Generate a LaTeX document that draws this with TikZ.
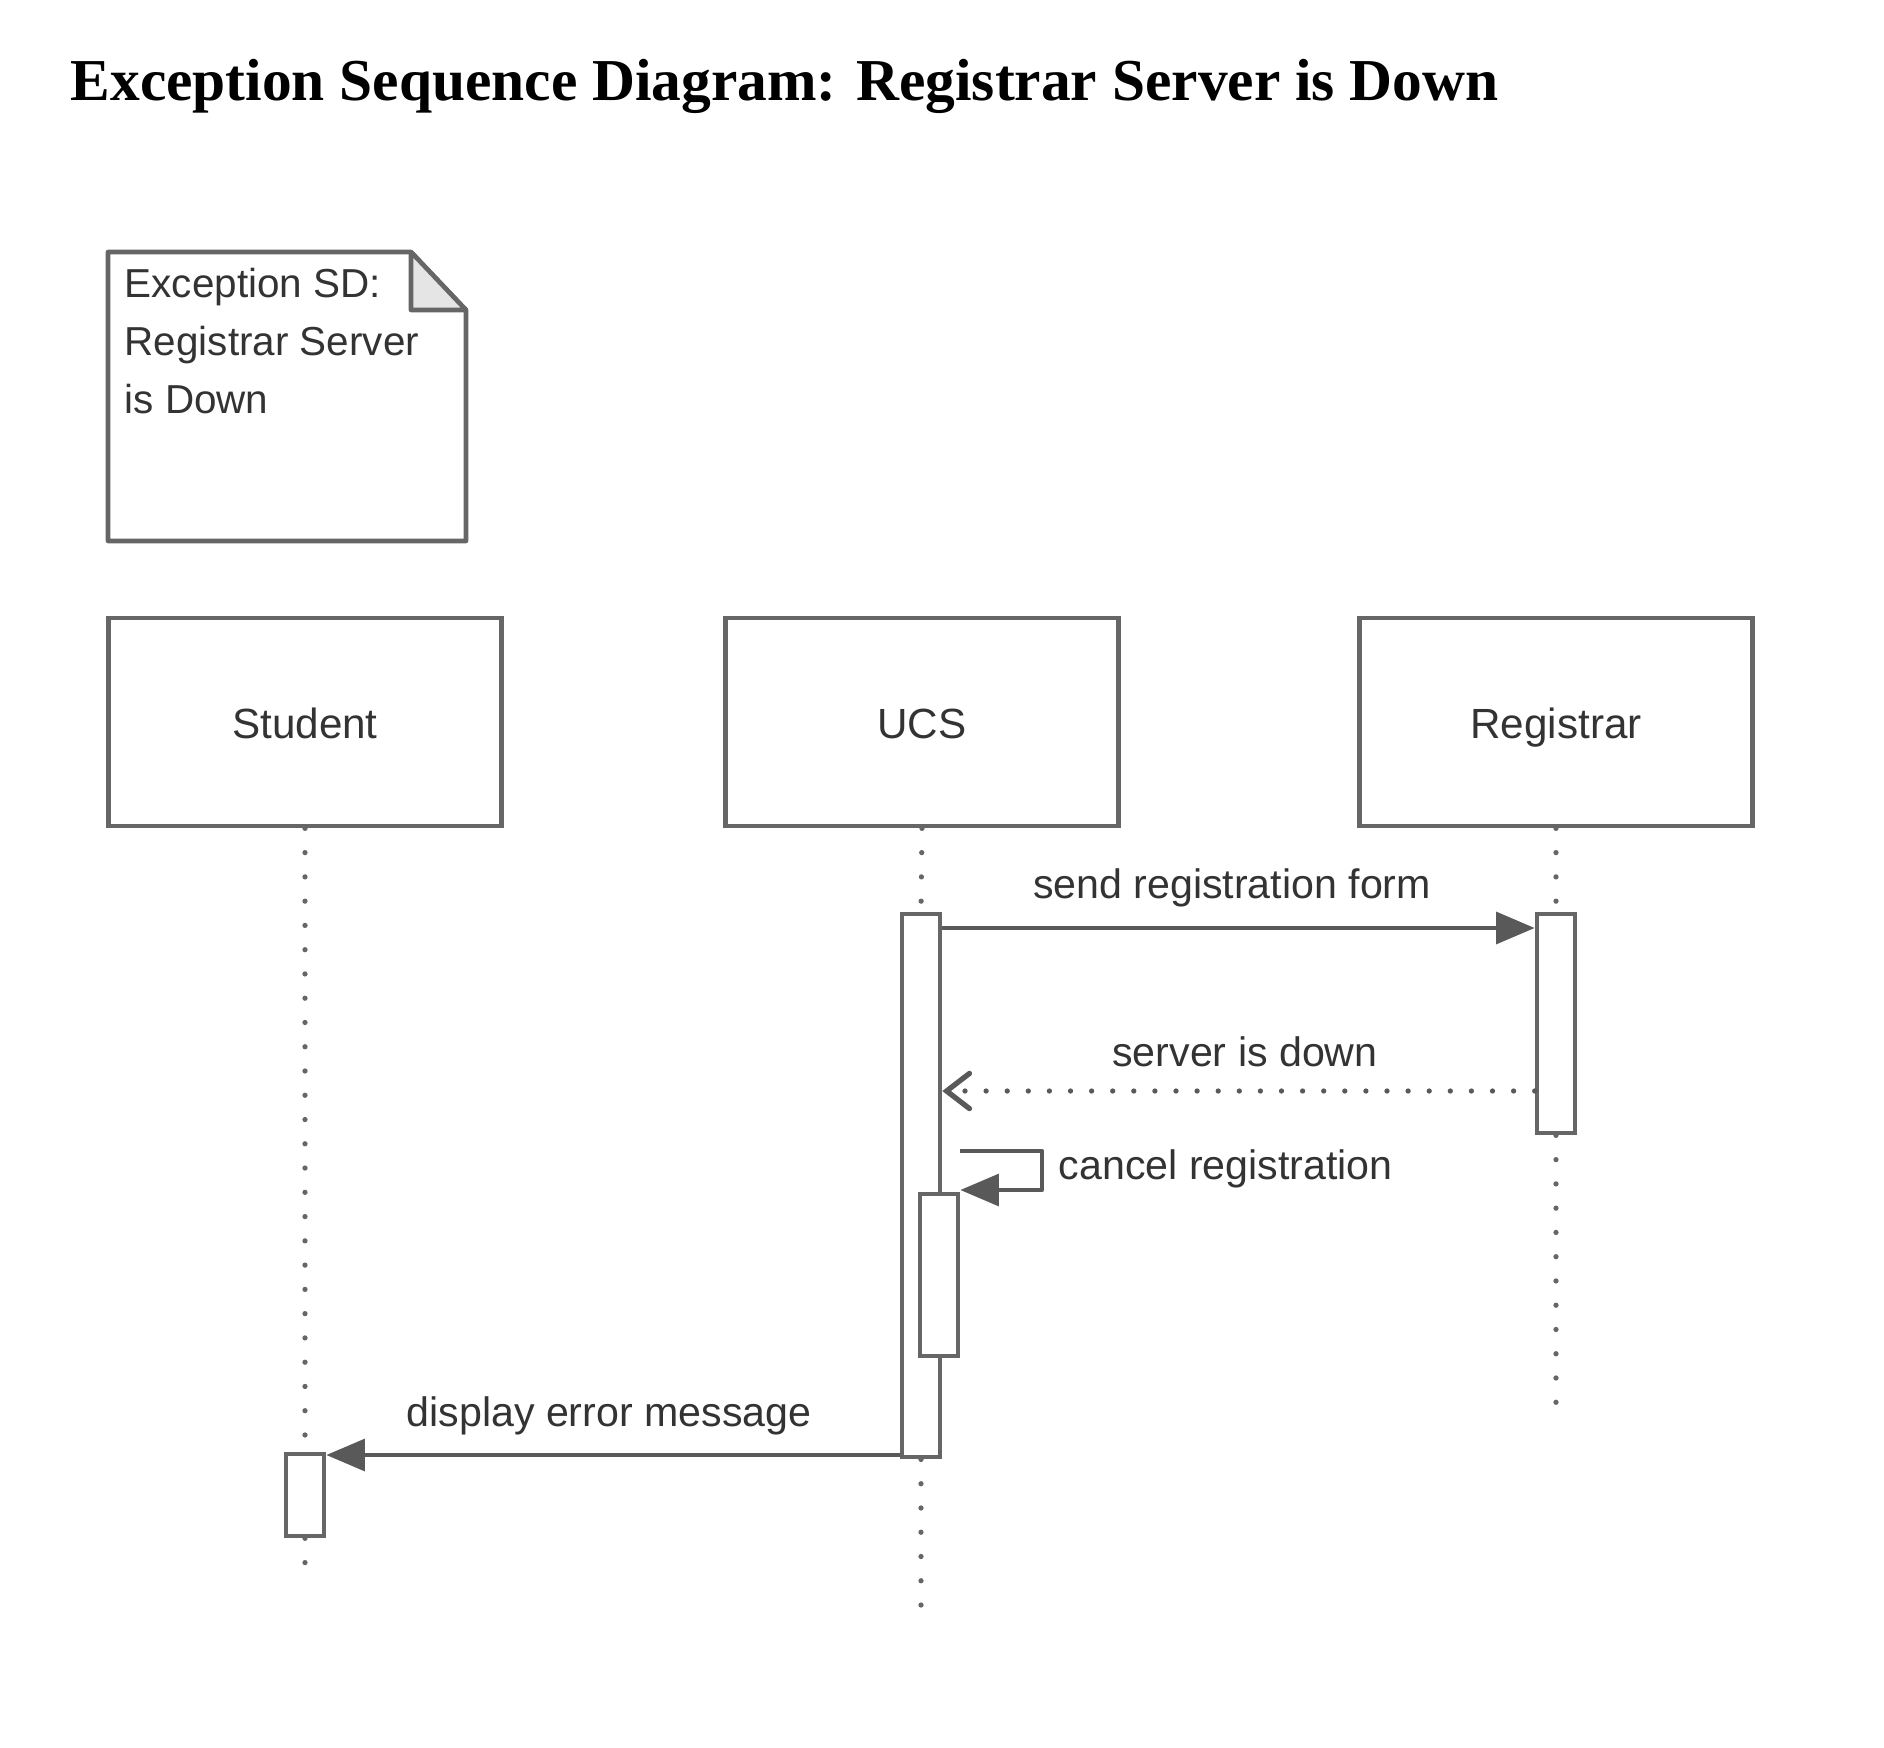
\documentclass[tikz,border=0pt]{standalone}
\usepackage{fontspec}
\setmainfont{Liberation Serif}
\setsansfont{Liberation Sans}
\usetikzlibrary{arrows.meta,positioning}

\tikzset{
  obj/.style={draw=black!60, line width=1.3pt, minimum width=3.93cm, minimum height=2.08cm,
    inner sep=0pt, text height=9.5pt, text depth=0pt, font=\sffamily\fontsize{12}{14}\selectfont, text=black!80},
  act/.style={draw=black!60, fill=white, line width=1.3pt, minimum width=0.38cm, inner sep=0pt},
  lifeline/.style={black!60, line width=1.5pt, line cap=round, dash pattern=on 0pt off 6.9pt},
  msg/.style={black!65, line width=1.3pt, -{Triangle[length=11pt,width=9pt]}},
  reply/.style={black!65, line width=1.5pt, line cap=round, dash pattern=on 0pt off 6pt,
    -{Straight Barb[length=6.5pt,width=10pt,line cap=round]}},
  lbl/.style={font=\sffamily\fontsize{11.7}{14}\selectfont, text=black!80, inner sep=0pt},
}

\begin{document}
\begin{tikzpicture}[x=0.01cm,y=-0.01cm]

\useasboundingbox (0,0) rectangle (1884,1748);

	% Title
	\node[anchor=base west, inner sep=0pt, font=\bfseries\fontsize{16.9}{20}\selectfont] (title) at (70,100)
		{Exception Sequence Diagram: Registrar Server is Down};

	% Draw the note with its folded corner
	\coordinate (noteNW) at (108,252);
	\coordinate (foldA) at (411,252);
	\coordinate (foldB) at (466,310);
	\coordinate (noteSE) at (466,541);
	\draw[black!60, line width=1.3pt, line join=round] (noteNW) -- (foldA) -- (foldB) -- (noteSE) -- (noteNW |- noteSE) -- cycle;
	\draw[black!60, line width=1.3pt, line join=round, fill=black!10] (foldA) -- (foldA |- foldB) -- (foldB) -- cycle;
	\node[lbl, font=\sffamily\fontsize{11.5}{16.5}\selectfont, anchor=north west, align=left] (note) at (124,267)
		{Exception SD:\\Registrar Server\\is Down};

	% Heads of the lifelines
	\node[obj] (student) at (305,722) {Student};
	\node[obj] (ucs) at (922,722) {UCS};
	\node[obj] (registrar) at (1556,722) {Registrar};

	% Activation bars
	\node[act, minimum height=0.82cm] (stuAct) at (305,1495) {};
	\node[act, minimum height=5.43cm] (ucsAct) at (921,1185.5) {};
	\node[act, minimum height=2.19cm] (regAct) at (1556,1023.5) {};

	\coordinate (stuEnd) at (305,1573);
	\coordinate (ucsEnd) at (921,1614);
	\coordinate (regEnd) at (1556,1410);

	% Draw the dotted lifelines
	\draw[lifeline] (student.south) -- (stuAct.north);
	\draw[lifeline] (stuAct.south) -- (stuEnd);
	\draw[lifeline] (ucs.south) -- (ucsAct.north);
	\draw[lifeline] (ucsAct.south) -- (ucsEnd);
	\draw[lifeline] (registrar.south) -- (regAct.north);
	\draw[lifeline] (regAct.south) -- (regEnd);

	% Heights of the messages
	\coordinate (m1) at (0,928);
	\coordinate (m2) at (0,1091);
	\coordinate (s1) at (0,1151);
	\coordinate (s2) at (0,1190);
	\coordinate (sR) at (1042,0);
	\coordinate (m4) at (0,1455);

	% send registration form
	\draw[msg] (ucsAct.east |- m1) -- (regAct.west |- m1);
	\node[lbl] (sendLbl) at (1232,888) {send registration form};

	% server is down
	\draw[reply] (regAct.west |- m2) -- (ucsAct.east |- m2);
	\node[lbl] (downLbl) at (1245,1052) {server is down};

	% cancel registration, a call to itself
	\node[act, minimum height=1.62cm] (ucsSub) at (939,1275) {};
	\draw[msg, line join=round] (ucsSub.east |- s1) -- (sR |- s1) -- (sR |- s2) -- (ucsSub.east |- s2);
	\node[lbl, anchor=west] (cancelLbl) at (1058,1169) {cancel registration};

	% display error message
	\draw[msg] (ucsAct.west |- m4) -- (stuAct.east |- m4);
	\node[lbl] (errorLbl) at (609,1416) {display error message};

\end{tikzpicture}
\end{document}
